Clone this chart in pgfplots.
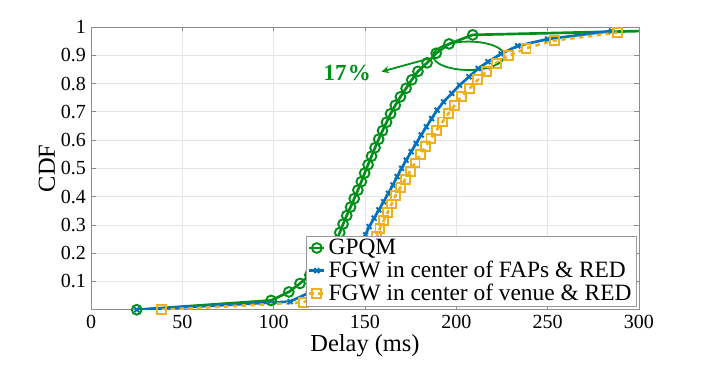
\documentclass[border=0pt]{standalone}
\usepackage{pgfplots}
\pgfplotsset{compat=1.18}
\usepackage{fontspec}
\setmainfont{Liberation Serif}
\definecolor{cgreen}{rgb}{0.0,0.56,0.1}
\definecolor{cblue}{rgb}{0.0,0.447,0.741}
\definecolor{cyell}{rgb}{0.929,0.694,0.125}
\begin{document}
\begin{tikzpicture}
\begin{axis}[
  scale only axis, width=370pt, height=191pt,
  xmin=0, xmax=300, ymin=0, ymax=1,
  xtick={0,50,...,300},
  ytick={0.1,0.2,0.3,0.4,0.5,0.6,0.7,0.8,0.9,1},
  yticklabels={0.1,0.2,0.3,0.4,0.5,0.6,0.7,0.8,0.9,1},
  /pgf/number format/assume math mode=true,
  tick label style={font=\fontsize{13.5}{16}\selectfont},
  label style={font=\fontsize{16.5}{19}\selectfont},
  tick pos=both, tick align=inside,
  major tick length=3pt,
  axis line style={draw=black!45},
  tick style={draw=black!45, line width=0.4pt},
  grid=major, grid style={draw=black!10, line width=0.4pt},
  xlabel={Delay (ms)}, ylabel={CDF},
  xlabel style={yshift=3pt},
  ylabel style={yshift=-3pt},
  legend style={at={(rel axis cs:0.995,0.012)}, anchor=south east,
    draw=black!40, fill=white, font=\fontsize{15.8}{17}\selectfont, row sep=-1pt,
    inner xsep=1pt, inner ysep=0pt, cells={anchor=west}},
  legend cell align=left,
  legend image code/.code={\draw[mark repeat=2,mark phase=2] plot coordinates {(0cm,0cm) (0.18cm,0cm) (0.36cm,0cm)};},
]
\addplot[cgreen, line width=1.8pt, mark=o, mark size=3.3pt, mark options={solid, line width=1.3pt}] coordinates {
(25,0) (98.6,0.033) (108.3,0.063) (114.4,0.093) (119.8,0.123) (124.5,0.153)
(128.5,0.183) (131.8,0.213) (134.2,0.243) (136.2,0.273) (138,0.303) (140,0.333)
(142.1,0.363) (144.1,0.393) (146.1,0.423) (148,0.453) (149.8,0.483) (151.7,0.513)
(153.6,0.543) (155.5,0.573) (157.5,0.603) (159.6,0.633) (161.8,0.663) (164,0.693)
(166.6,0.723) (169.4,0.753) (172.5,0.783) (175.6,0.813) (179,0.843) (184,0.873)
(189,0.907) (196,0.94) (209,0.972) (400,1.0)
};
\addlegendentry{GPQM}
\addplot[cblue, line width=1.8pt, mark=x, mark size=2.3pt, mark options={solid, line width=1.3pt}] coordinates {
(25,0) (109,0.029) (119,0.059) (126,0.088) (132,0.118) (137,0.147) (141,0.176)
(144.5,0.206) (147.5,0.235) (150.3,0.265) (152.3,0.294) (155,0.324) (157.6,0.353)
(160.2,0.382) (162.8,0.412) (165.3,0.441) (167.6,0.471) (170,0.5) (172.6,0.529)
(175.3,0.559) (178,0.588) (180.8,0.618) (183.6,0.647) (186.5,0.676) (189.5,0.706)
(193,0.735) (197.5,0.765) (201.8,0.794) (207,0.824) (212,0.853) (217.3,0.877)
(224.5,0.905) (233.6,0.933) (250,0.957) (285,0.986)
};
\addlegendentry{FGW in center of FAPs \& RED}
\addplot[cyell, line width=1.8pt, dashed, mark=square, mark size=3pt, mark options={solid, line width=1.3pt}] coordinates {
(38.7,0) (116.4,0.026) (124,0.055) (131,0.084) (137,0.113) (142,0.142) (146.5,0.171)
(150.5,0.2) (153.8,0.229) (156.5,0.258) (158.2,0.287) (160.3,0.316) (162.5,0.345)
(164.6,0.374) (166.7,0.403) (169.3,0.432) (172,0.461) (174.7,0.49) (177.4,0.519)
(180.2,0.548) (183.1,0.577) (186.1,0.606) (189.2,0.635) (192.4,0.664) (195.6,0.693)
(199,0.722) (202.7,0.754) (207.3,0.783) (211.8,0.813) (216.4,0.842) (221.8,0.872)
(228.8,0.898) (238.2,0.925) (253.7,0.952) (288.2,0.98)
};
\addlegendentry{FGW in center of venue \& RED}
\draw[cgreen, line width=1.2pt] (axis cs:206.8,0.898) ellipse [x radius=24.1pt, y radius=9.6pt];
\draw[cgreen, line width=1.2pt, -stealth] (axis cs:185.5,0.889) -- (axis cs:159.1,0.842);
\node[cgreen, font=\fontsize{15.5}{18}\selectfont\bfseries] at (axis cs:140.3,0.837) {17\kern0.8pt\%};
\end{axis}
\pgfresetboundingbox
\path (current axis.south west) +(-61.5pt,-40.5pt) (current axis.north east) +(45.3pt,18.2pt);
\end{tikzpicture}
\end{document}
